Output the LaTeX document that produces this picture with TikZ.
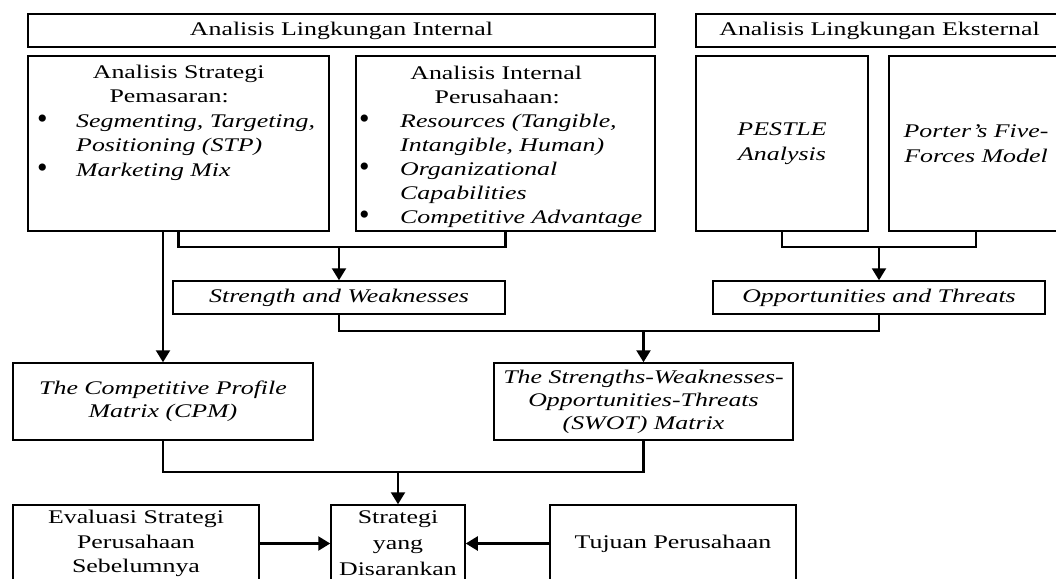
\documentclass[tikz,border=0pt]{standalone}
\usepackage{fontspec}
\setmainfont{Liberation Serif}[FakeStretch=1.34]
\newfontfamily\bulfont{Liberation Serif}
\usetikzlibrary{arrows.meta}
\tikzset{
  box/.style={draw, line width=1.5pt, inner sep=0pt, align=center},
  conn/.style={line width=2.3pt},
  arr/.style={line width=2.3pt, -{Triangle[width=14pt,length=12pt]}},
  every node/.style={font=\fontsize{19.3}{23.5}\selectfont},
}
\newcommand{\bigbul}{\raisebox{-1.5pt}{\bulfont\fontsize{30}{30}\selectfont\textbullet}}
\newcommand{\bitem}[3]{\hspace*{#1}\makebox[#2][l]{\bigbul}\textit{#3}}
\newcommand{\cont}[2]{\hspace*{#1}\textit{#2}}
\begin{document}
\begin{tikzpicture}[x=1pt,y=-1pt]
\useasboundingbox (0,0) rectangle (1056,578);
\clip (0,0) rectangle (1056,578);
% headers
\node[box, minimum width=627pt, minimum height=33pt] (HI) at (341.5,30.5) {Analisis Lingkungan Internal};
\node[box, minimum width=367pt, minimum height=33pt] (HE) at (879.5,30.5) {Analisis Lingkungan Eksternal};
% upper boxes
\node[box, minimum width=301pt, minimum height=175pt] (A) at (178.5,143.5) {};
\node[anchor=base west, inner sep=0pt, font=\fontsize{19.3}{24.5}\selectfont] (At) at (28,78) {\parbox[t]{301pt}{%
\makebox[301pt][c]{Analisis Strategi}\\
\makebox[282pt][c]{Pemasaran:}\\
\bitem{9pt}{39pt}{Segmenting, Targeting,}\\
\cont{48pt}{Positioning (STP)}\\
\bitem{9pt}{39pt}{Marketing Mix}}};
\node[box, minimum width=299pt, minimum height=175pt] (B) at (505.5,143.5) {};
\node[anchor=base west, inner sep=0pt, font=\fontsize{19.3}{24}\selectfont] (Bt) at (356,79) {\parbox[t]{299pt}{%
\makebox[280pt][c]{Analisis Internal}\\
\makebox[282pt][c]{Perusahaan:}\\
\bitem{3pt}{41pt}{Resources (Tangible,}\\
\cont{44pt}{Intangible, Human)}\\
\bitem{3pt}{41pt}{Organizational}\\
\cont{44pt}{Capabilities}\\
\bitem{3pt}{41pt}{Competitive Advantage}}};
\node[box, minimum width=172pt, minimum height=175pt, font=\fontsize{19.3}{25}\selectfont\itshape] (P) at (782,143.5) {PESTLE\\Analysis};
\node[box, minimum width=174pt, minimum height=175pt, font=\fontsize{19.3}{25}\selectfont\itshape] (F) at (976,143.5) {Porter's Five-\\Forces Model};
% S&W, O&T
\node[box, minimum width=332pt, minimum height=33pt, font=\fontsize{19.3}{23.5}\selectfont\itshape] (SW) at (339,297.5) {Strength and Weaknesses};
\node[box, minimum width=332pt, minimum height=33pt, font=\fontsize{19.3}{23.5}\selectfont\itshape] (OT) at (879,297.5) {Opportunities and Threats};
% matrices
\node[box, minimum width=300pt, minimum height=77pt, font=\fontsize{19.3}{23}\selectfont\itshape] (CPM) at (163,401.5) {The Competitive Profile\\Matrix (CPM)};
\node[box, minimum width=299pt, minimum height=77pt, font=\fontsize{19.3}{23}\selectfont\itshape] (SWOT) at (643.5,401.5) {The Strengths-Weaknesses-\\Opportunities-Threats\\(SWOT) Matrix};
% bottom row
\node[box, minimum width=246pt, minimum height=77pt, font=\fontsize{19.3}{24.5}\selectfont] (EV) at (136,543.5) {Evaluasi Strategi\\Perusahaan\\Sebelumnya};
\node[box, minimum width=134pt, minimum height=77pt, font=\fontsize{19.3}{26}\selectfont] (ST) at (398,543.5) {Strategi\\yang\\Disarankan};
\node[box, minimum width=246pt, minimum height=77pt] (TU) at (673,543.5) {Tujuan Perusahaan};
% junctions
\coordinate (j1) at (339,247);
\coordinate (j2) at (879,247);
\coordinate (j3) at (643.5,331);
\coordinate (j4) at (398,472);
% connectors
\draw[conn] (A.south) |- (j1) -| (B.south);
\draw[arr] (j1) -- (SW.north);
\draw[arr] (A.south -| CPM.north) -- (CPM.north);
\draw[conn] (P.south) |- (j2) -| (F.south);
\draw[arr] (j2) -- (OT.north);
\draw[conn] (SW.south) |- (j3) -| (OT.south);
\draw[arr] (j3) -- (SWOT.north);
\draw[conn] (CPM.south) |- (j4) -| (SWOT.south);
\draw[arr] (j4) -- (ST.north);
\draw[arr] (EV.east) -- (ST.west);
\draw[arr] (TU.west) -- (ST.east);
\end{tikzpicture}
\end{document}
